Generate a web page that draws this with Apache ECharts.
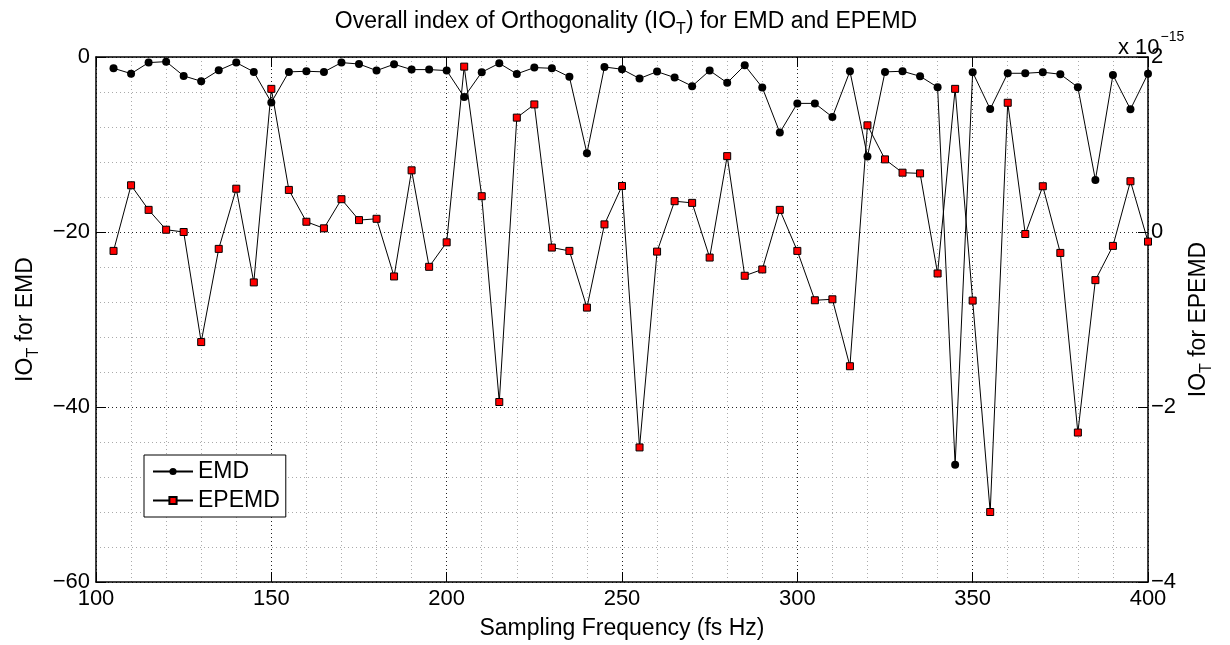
<!DOCTYPE html>
<html>
<head>
<meta charset="utf-8">
<script src="https://cdn.jsdelivr.net/npm/echarts@6/dist/echarts.min.js"></script>
<style>
html,body{margin:0;padding:0;background:#fff;}
#chart{width:1230px;height:645px;}
</style>
</head>
<body>
<div id="chart"></div>
<script>
const freqs = [105,110,115,120,125,130,135,140,145,150,155,160,165,170,175,180,185,190,195,200,
  205,210,215,220,225,230,235,240,245,250,255,260,265,270,275,280,285,290,295,300,
  305,310,315,320,325,330,335,340,345,350,355,360,365,370,375,380,385,390,395,400];
const emd = [-1.29,-1.9,-0.64,-0.53,-2.16,-2.77,-1.52,-0.64,-1.7,-5.19,-1.7,-1.63,-1.7,-0.64,-0.8,-1.55,-0.83,-1.44,-1.44,-1.55,
  -4.58,-1.74,-0.72,-1.93,-1.21,-1.29,-2.27,-11.0,-1.14,-1.4,-2.46,-1.67,-2.35,-3.33,-1.55,-2.95,-0.95,-3.48,-8.64,-5.3,
  -5.3,-6.86,-1.63,-11.36,-1.7,-1.63,-2.2,-3.45,-46.6,-1.74,-5.95,-1.86,-1.86,-1.74,-1.97,-3.45,-14.05,-2.05,-5.98,-1.9];
// EPEMD values in units of 1e-15
const epemd = [-0.216,0.534,0.253,0.026,0.0,-1.258,-0.193,0.495,-0.576,1.636,0.481,0.117,0.042,0.375,0.136,0.151,-0.508,0.705,-0.398,-0.118,
  1.89,0.409,-1.943,1.307,1.458,-0.178,-0.216,-0.864,0.087,0.526,-2.462,-0.224,0.352,0.333,-0.292,0.867,-0.5,-0.428,0.253,-0.216,
  -0.78,-0.769,-1.534,1.219,0.83,0.678,0.67,-0.474,1.636,-0.784,-3.2,1.477,-0.023,0.523,-0.239,-2.292,-0.55,-0.159,0.58,-0.11];
const xTicks = [100,150,200,250,300,350,400];
const leftTicks = [-60,-40,-20,0];
const rightTicks = [-4,-2,0,2];

const FONT = "'Liberation Sans', Arial, Helvetica, sans-serif";
const fmtNum = v => (v < 0 ? '\u2212' + Math.abs(v) : String(v));
const chart = echarts.init(document.getElementById('chart'), null, {renderer:'canvas'});

const subRich = {
  n:{fontSize:23, fontFamily:FONT, color:'#000', fontWeight:'normal'},
  s:{fontSize:16, fontFamily:FONT, color:'#000', fontWeight:'normal', padding:[16,0,0,0]}
};

const option = {
  backgroundColor:'#fff',
  animation:false,
  title:{
    text:'{n|Overall index of Orthogonality (IO}{s|T}{n|) for EMD and EPEMD}',
    left:621, textAlign:'center', top:1,
    textStyle:{fontWeight:'normal', rich:subRich}
  },
  grid:{left:96, right:82, top:57, bottom:60, containLabel:false, show:false},
  legend:{
    orient:'vertical', left:144, top:455,
    data:['EMD','EPEMD'],
    itemWidth:40, itemHeight:9, itemGap:6,
    padding:[5,6,5,8],
    borderColor:'#000', borderWidth:1, backgroundColor:'#fff', borderRadius:0,
    textStyle:{fontSize:23, fontFamily:FONT, color:'#000', padding:[0,0,0,0]}
  },
  xAxis:[{
    type:'value', min:100, max:400, interval:50, position:'bottom',
    name:'Sampling Frequency (fs Hz)', nameLocation:'middle', nameGap:35,
    nameTextStyle:{fontSize:23, fontFamily:FONT, color:'#000'},
    axisLine:{show:true, onZero:false, lineStyle:{color:'#000', width:1.5}},
    axisTick:{show:true, inside:true, length:10, lineStyle:{color:'#000'}},
    axisLabel:{fontSize:22, fontFamily:FONT, color:'#000', margin:6,
      formatter:v=>xTicks.includes(v)?fmtNum(v):''},
    splitLine:{show:true, lineStyle:{color:'#222', type:[1,3], width:1}},
    minorTick:{show:false, splitNumber:5},
    minorSplitLine:{show:true, lineStyle:{color:'#aaa', type:[1,3], width:1}}
  },{
    type:'value', min:100, max:400, interval:50, position:'top',
    axisLine:{show:true, onZero:false, lineStyle:{color:'#000', width:1.5}},
    axisTick:{show:true, inside:true, length:10, lineStyle:{color:'#000'}},
    axisLabel:{show:false}, splitLine:{show:false}
  }],
  yAxis:[{
    type:'value', min:-60, max:0, interval:20, position:'left',
    name:'{n|IO}{s|T}{n| for EMD}', nameLocation:'middle', nameGap:51, nameRotate:90,
    nameTextStyle:{rich:subRich},
    axisLine:{show:true, onZero:false, lineStyle:{color:'#000', width:1.5}},
    axisTick:{show:true, inside:true, length:10, lineStyle:{color:'#000'}},
    axisLabel:{fontSize:22, fontFamily:FONT, color:'#000', margin:6,
      formatter:v=>leftTicks.includes(v)?fmtNum(v):''},
    splitLine:{show:true, lineStyle:{color:'#222', type:[1,3], width:1}},
    minorTick:{show:false, splitNumber:5},
    minorSplitLine:{show:true, lineStyle:{color:'#aaa', type:[1,3], width:1}}
  },{
    type:'value', min:-4, max:2, interval:2, position:'right',
    name:'{n|IO}{s|T}{n| for EPEMD}', nameLocation:'middle', nameGap:34, nameRotate:90,
    nameTextStyle:{rich:subRich},
    axisLine:{show:true, onZero:false, lineStyle:{color:'#000', width:1.5}},
    axisTick:{show:true, inside:true, length:10, lineStyle:{color:'#000'}},
    axisLabel:{fontSize:22, fontFamily:FONT, color:'#000', margin:3,
      formatter:v=>rightTicks.includes(v)?fmtNum(v):''},
    splitLine:{show:false}
  }],
  graphic:[{
    type:'text', left:1118, top:30, z:100,
    style:{
      text:'{a|x 10}{b|\u221215}',
      rich:{
        a:{fontSize:22, fontFamily:FONT, fill:'#000', padding:[10,0,0,0]},
        b:{fontSize:14, fontFamily:FONT, fill:'#000', padding:[0,0,12,1]}
      }
    }
  }],
  series:[{
    name:'EMD', type:'line', xAxisIndex:0, yAxisIndex:0,
    data:freqs.map((f,i)=>[f, emd[i]]),
    symbol:'circle', symbolSize:8,
    lineStyle:{color:'#000', width:1},
    itemStyle:{color:'#000', borderColor:'#000', borderWidth:0},
    z:3
  },{
    name:'EPEMD', type:'line', xAxisIndex:0, yAxisIndex:1,
    data:freqs.map((f,i)=>[f, epemd[i]]),
    symbol:'rect', symbolSize:7,
    lineStyle:{color:'#000', width:1},
    itemStyle:{color:'#ff0000', borderColor:'#000', borderWidth:1},
    z:4
  }]
};
chart.setOption(option);
</script>
</body>
</html>
